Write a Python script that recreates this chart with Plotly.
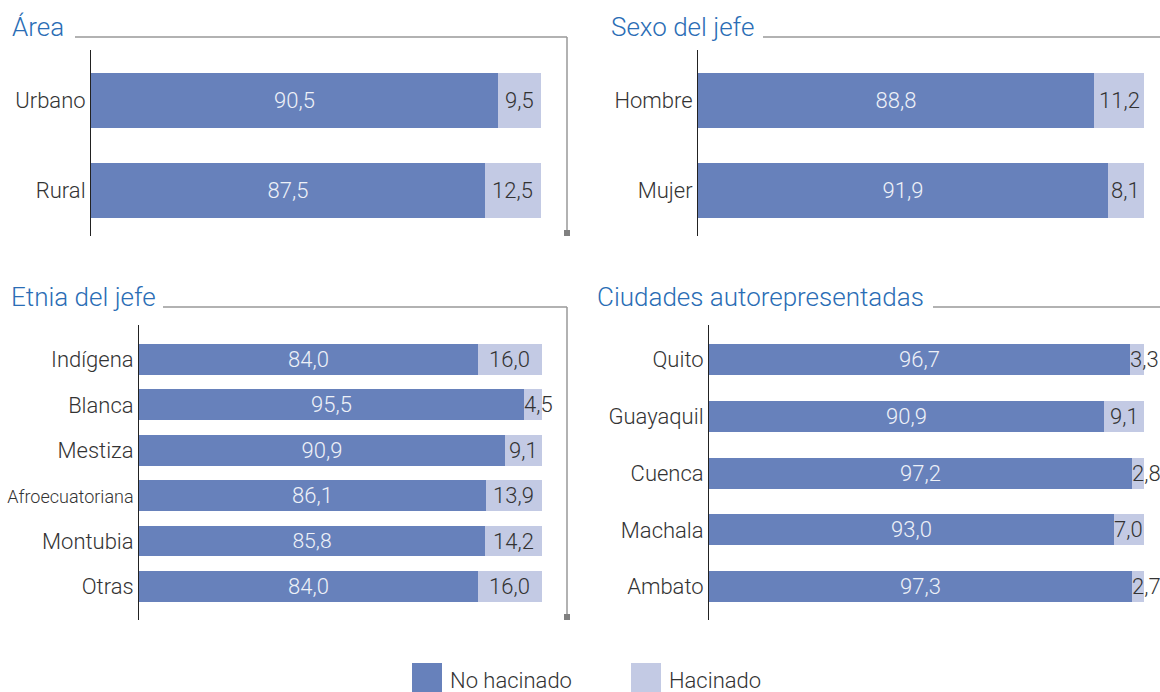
import plotly.graph_objects as go

W, H = 1160, 692

# ---------------- data ----------------
area_cats = ["Urbano", "Rural"]
area_no = [90.5, 87.5]
area_si = [9.5, 12.5]

sexo_cats = ["Hombre", "Mujer"]
sexo_no = [88.8, 91.9]
sexo_si = [11.2, 8.1]

etnia_cats = ["Indígena", "Blanca", "Mestiza", "Afroecuatoriana", "Montubia", "Otras"]
etnia_no = [84.0, 95.5, 90.9, 86.1, 85.8, 84.0]
etnia_si = [16.0, 4.5, 9.1, 13.9, 14.2, 16.0]

ciud_cats = ["Quito", "Guayaquil", "Cuenca", "Machala", "Ambato"]
ciud_no = [96.7, 90.9, 97.2, 93.0, 97.3]
ciud_si = [3.3, 9.1, 2.8, 7.0, 2.7]

titles = ["Área", "Sexo del jefe", "Etnia del jefe", "Ciudades autorepresentadas"]
series_names = ["No hacinado", "Hacinado"]

# ---------------- style ----------------
DARK = "#6781BB"
LIGHT = "#C3CAE4"
TITLE_C = "#2A6DB5"
TXT = "#333333"
LINE_C = "#999999"
FONT = "Roboto"
WT = 300
FS = 22


def px_x(p):
    return p / W


def px_y(p):
    return 1 - p / H


def fmt(v):
    return f"{v:.1f}".replace(".", ",")


def f(size, color):
    return dict(family=FONT, size=size, color=color, weight=WT)


# panel layout: x0,x1 (px), ytop,ybot (px), top units, bottom units, bar width,
# title x, title y, rule x0, rule x1, rule y, vertical rule
panels = [
    dict(cats=area_cats, no=area_no, si=area_si, x0=91, x1=541, yt=50, yb=236,
         tu=0.561, bu=0.506, bw=0.61, tx=10, ty=27, lx0=75, lx1=567, ly=37, vert=True),
    dict(cats=sexo_cats, no=sexo_no, si=sexo_si, x0=698, x1=1144, yt=50, yb=236,
         tu=0.561, bu=0.506, bw=0.61, tx=609, ty=27, lx0=763, lx1=1160, ly=37, vert=False),
    dict(cats=etnia_cats, no=etnia_no, si=etnia_si, x0=139, x1=542, yt=325, yb=620,
         tu=0.76, bu=0.74, bw=0.68, tx=9, ty=297, lx0=163, lx1=567, ly=307, vert=True),
    dict(cats=ciud_cats, no=ciud_no, si=ciud_si, x0=709, x1=1144, yt=325, yb=620,
         tu=0.61, bu=0.59, bw=0.546, tx=595, ty=297, lx0=933, lx1=1160, ly=307, vert=False),
]

fig = go.Figure()
annotations = []
shapes = []
layout_axes = {}

for i, p in enumerate(panels):
    k = "" if i == 0 else str(i + 1)
    xa, ya = "x" + k, "y" + k
    ticktext = []
    for c in p["cats"]:
        if len(c) > 12:
            ticktext.append(f"<span style='font-size:18px'>{c}</span>")
        else:
            ticktext.append(c)
    fig.add_trace(go.Bar(
        y=p["cats"], x=p["no"], orientation="h", name=series_names[0],
        marker=dict(color=DARK, line=dict(width=0)), width=p["bw"],
        text=[fmt(v) for v in p["no"]], textposition="inside",
        insidetextanchor="middle", textangle=0,
        textfont=f(FS, "#EEF1F8"),
        xaxis=xa, yaxis=ya, showlegend=False, hoverinfo="skip"))
    fig.add_trace(go.Bar(
        y=p["cats"], x=p["si"], orientation="h", name=series_names[1],
        marker=dict(color=LIGHT, line=dict(width=0)), width=p["bw"],
        xaxis=xa, yaxis=ya, showlegend=False, hoverinfo="skip"))

    pxu = (p["x1"] - p["x0"]) / 100.0
    for c, a, b in zip(p["cats"], p["no"], p["si"]):
        t = fmt(b)
        tw = len(t) * 9.5
        seg = b * pxu
        if tw > seg - 2:
            annotations.append(dict(x=a, y=c, xref=xa, yref=ya, text=t, showarrow=False,
                                    xanchor="left", xshift=-2, font=f(FS, TXT)))
        else:
            annotations.append(dict(x=a + b / 2, y=c, xref=xa, yref=ya, text=t, showarrow=False,
                                    xanchor="center", font=f(FS, TXT)))

    n = len(p["cats"])
    layout_axes["xaxis" + k] = dict(domain=[px_x(p["x0"]), px_x(p["x1"])], range=[0, 100],
                                    visible=False, anchor=ya, fixedrange=True)
    layout_axes["yaxis" + k] = dict(domain=[px_y(p["yb"]), px_y(p["yt"])],
                                    range=[n - 1 + p["bu"], -p["tu"]],
                                    type="category", categoryorder="array", categoryarray=p["cats"],
                                    tickvals=p["cats"], ticktext=ticktext,
                                    showline=True, linecolor="#222222", linewidth=1,
                                    ticks="", showgrid=False, zeroline=False,
                                    ticklabelstandoff=0,
                                    tickfont=f(FS, TXT),
                                    anchor=xa, fixedrange=True)

    annotations.append(dict(x=px_x(p["tx"]), y=px_y(p["ty"]), xref="paper", yref="paper",
                            text=titles[i], showarrow=False, xanchor="left", yanchor="middle",
                            font=f(26, TITLE_C)))
    shapes.append(dict(type="line", xref="paper", yref="paper",
                       x0=px_x(p["lx0"]), x1=px_x(p["lx1"]), y0=px_y(p["ly"]), y1=px_y(p["ly"]),
                       line=dict(color=LINE_C, width=1.5)))
    if p["vert"]:
        shapes.append(dict(type="line", xref="paper", yref="paper",
                           x0=px_x(p["lx1"]), x1=px_x(p["lx1"]), y0=px_y(p["ly"]), y1=px_y(p["yb"] - 3),
                           line=dict(color=LINE_C, width=1.5)))
        shapes.append(dict(type="rect", xref="paper", yref="paper",
                           x0=px_x(p["lx1"] - 3), x1=px_x(p["lx1"] + 3),
                           y0=px_y(p["yb"] - 6), y1=px_y(p["yb"]),
                           fillcolor="#808080", line=dict(width=0)))

# legend (drawn manually to match large swatches)
legend_items = [(series_names[0], DARK, 412), (series_names[1], LIGHT, 631)]
for name, col, lx in legend_items:
    shapes.append(dict(type="rect", xref="paper", yref="paper",
                       x0=px_x(lx), x1=px_x(lx + 30), y0=px_y(692), y1=px_y(663),
                       fillcolor=col, line=dict(width=0)))
    annotations.append(dict(x=px_x(lx + 36), y=px_y(680), xref="paper", yref="paper",
                            text=name, showarrow=False, xanchor="left", yanchor="middle",
                            font=f(FS, TXT)))

fig.update_layout(
    width=W, height=H, margin=dict(l=0, r=0, t=0, b=0),
    paper_bgcolor="white", plot_bgcolor="white",
    barmode="stack", bargap=0, showlegend=False,
    annotations=annotations, shapes=shapes,
    font=dict(family=FONT, color=TXT, weight=WT),
    **layout_axes,
)

fig.write_html("out.html", config={"displayModeBar": False},
               post_script="document.body.style.margin='0';document.body.style.overflow='hidden';")
